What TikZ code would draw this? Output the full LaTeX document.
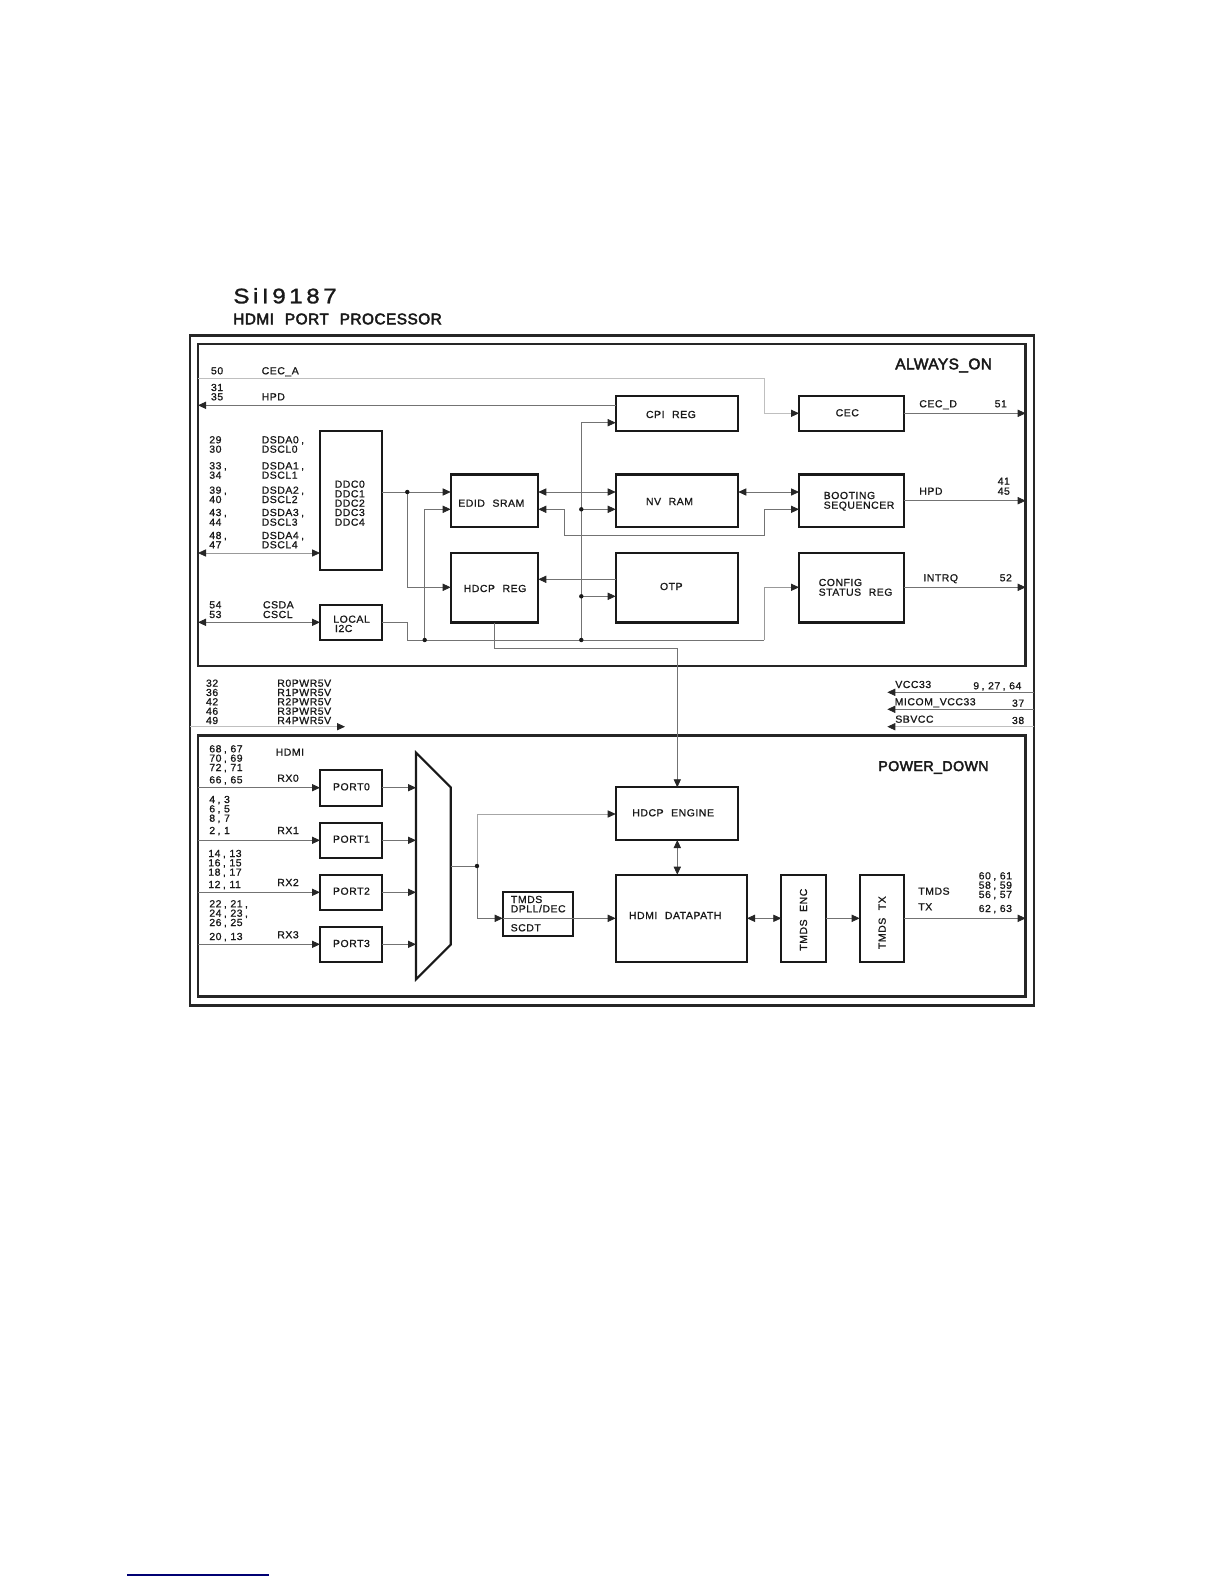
\documentclass[tikz,border=0pt]{standalone}
\usepackage{fontspec}
\usetikzlibrary{arrows.meta,calc}
\newfontfamily\labfont[FakeStretch=1.03,LetterSpace=5,WordSpace=2.2,FakeBold=1]{Liberation Sans}
\newfontfamily\headfont[FakeStretch=1.0,LetterSpace=3,WordSpace=2.3,FakeBold=3]{Liberation Sans}
\newfontfamily\chipfont[FakeStretch=1.15,LetterSpace=17,FakeBold=1.5]{Liberation Sans}
\newcounter{tc}
\newcommand{\cm}{\kern1.2pt,\kern1.8pt}
\tikzset{
  x=0.5pt,y=-0.5pt,
  blk/.style={draw=black!90,line width=1.05pt,inner sep=0pt,outer sep=0pt,rectangle},
  frame/.style={draw=black!85,line width=1.25pt,inner sep=0pt,outer sep=0pt,rectangle},
  conn/.style={draw=black!55,line width=0.4pt,arrows={-Triangle[length=4pt,width=3.6pt,color=black!85,fill=black!85]}},
  both/.style={draw=black!55,line width=0.4pt,arrows={Triangle[length=4pt,width=3.6pt,color=black!85,fill=black!85]-Triangle[length=4pt,width=3.6pt,color=black!85,fill=black!85]}},
  plain/.style={draw=black!55,line width=0.4pt},
  faint/.style={draw=black!25},
  lab/.style={font=\labfont\fontsize{5.1pt}{6pt}\selectfont,text=black!90,inner sep=0pt,outer sep=0pt,anchor=base west},
  head/.style={font=\headfont\fontsize{7.7pt}{9pt}\selectfont,text=black!90,inner sep=0pt,outer sep=0pt,anchor=base west},
  dot/.style={circle,fill=black!90,inner sep=0pt,minimum size=2.2pt},
}
\newcommand{\blkbox}[6][blk]{\node[#1,minimum width={(#5-#3)*0.5pt},minimum height={(#6-#4)*0.5pt}] (#2) at ({(#3+#5)/2},{(#4+#6)/2}) {};}
\newcommand{\lb}[4][]{\stepcounter{tc}\node[lab,#1] (t\arabic{tc}) at (#2,#3) {#4};}
\begin{document}
\begin{tikzpicture}
\useasboundingbox (0,0) rectangle (1224,1584);
% frames
\blkbox[frame]{outer}{190}{335.7}{1034}{1005.7}
\blkbox[frame]{aon}{198}{344}{1025.7}{666}
\blkbox[frame]{pdn}{198}{735.7}{1025.7}{996.7}
% blocks
\blkbox{ddc}{320}{431}{381.7}{570}
\blkbox{edid}{450.7}{474.5}{538.3}{527}
\blkbox{hdcpreg}{450.7}{553}{538.3}{622.5}
\blkbox{local}{320}{605}{381.7}{640}
\blkbox{cpi}{615.7}{396.3}{738.3}{431}
\blkbox{nvram}{615.7}{474.5}{738.3}{527}
\blkbox{otp}{615.7}{553}{738.3}{622.5}
\blkbox{cec}{799}{396.3}{903.7}{431}
\blkbox{boot}{799}{474.5}{903.7}{527}
\blkbox{config}{799}{553}{903.7}{622.5}
\blkbox{port0}{320}{770.3}{381.7}{805.7}
\blkbox{port1}{320}{822.7}{381.7}{858}
\blkbox{port2}{320}{874.7}{381.7}{910}
\blkbox{port3}{320}{927}{381.7}{962.3}
\blkbox{tmdsdec}{502.7}{892}{573.3}{936}
\blkbox{engine}{615.7}{787.3}{738.3}{840}
\blkbox{datapath}{615.7}{874.7}{747}{962}
\blkbox{enc}{781.3}{874.7}{825.7}{962}
\blkbox{tx}{859.7}{874.7}{903.7}{962}
% mux
\draw[draw=black!90,line width=1.05pt,line join=miter] (416,752.7) -- (450.7,787.3) -- (450.7,944.7) -- (416,979.3) -- cycle;
% named points
\coordinate (jddc) at (407.3,492);
\coordinate (jhd) at (407.3,587.3);
\coordinate (jloc) at (407.3,622.3);
\coordinate (jlow) at (407.3,640);
\coordinate (j2) at (424.7,640);
\coordinate (j2up) at (424.7,509.3);
\coordinate (j3) at (581.3,640);
\coordinate (j3a) at (581.3,509.3);
\coordinate (j3b) at (581.3,596.3);
\coordinate (j3c) at (581.3,422.7);
\coordinate (cfga) at (764.3,640);
\coordinate (cfgb) at (764.3,587.3);
\coordinate (rta) at (564.3,509.3);
\coordinate (rtb) at (564.3,535.3);
\coordinate (rtc) at (764.3,535.3);
\coordinate (rtd) at (764.3,509.3);
\coordinate (ceca) at (198,378.7);
\coordinate (cecb) at (764.3,378.7);
\coordinate (cecc) at (764.3,413.3);
\coordinate (hda) at (494.3,648.3);
\coordinate (hdb) at (677.3,648.3);
\coordinate (hdc) at (677.3,787.3);
\coordinate (muxo) at (450.7,866);
\coordinate (jmux) at (477,866);
\coordinate (jmua) at (477,814);
\coordinate (jmub) at (477,918.3);
\coordinate (pwrs) at (190,726.7);
\coordinate (pwre) at (345,726.7);
\coordinate (vcca) at (887.3,692.3);
\coordinate (vccb) at (887.3,709.3);
\coordinate (vccc) at (887.3,726.7);
\coordinate (mx0) at (416,787.7);
\coordinate (mx1) at (416,840.3);
\coordinate (mx2) at (416,892.3);
\coordinate (mx3) at (416,944.3);
% connectors always-on
\draw[conn,faint] (ceca) -- (cecb) -- (cecc) -- (cec.west |- cecc);
\draw[conn] (cpi.west |- 0,405.3) -- (aon.west |- 0,405.3);
\draw[conn] (j3) -- (j3c) -- (cpi.west |- j3c);
\draw[conn] (ddc.east |- jddc) -- (edid.west |- jddc);
\draw[conn] (jddc) -- (jhd) -- (hdcpreg.west |- jhd);
\draw[conn] (j2) -- (j2up) -- (edid.west |- j2up);
\draw[both] (edid.east |- 0,492) -- (nvram.west |- 0,492);
\draw[conn] (j3a) -- (nvram.west |- j3a);
\draw[conn] (rtd) -- (boot.west |- rtd);
\draw[conn] (rtb) -- (rta) -- (edid.east |- rta);
\draw[plain] (rtb) -- (rtc) -- (rtd);
\draw[conn] (otp.west |- 0,579.3) -- (hdcpreg.east |- 0,579.3);
\draw[conn] (j3b) -- (otp.west |- j3b);
\draw[both] (nvram.east |- 0,492) -- (boot.west |- 0,492);
\draw[plain] (local.east |- jloc) -- (jloc) -- (jlow) -- (cfga);
\draw[conn,draw=black!40] (cfga) -- (cfgb) -- (config.west |- cfgb);
\draw[both,draw=black!40] (aon.west |- 0,553) -- (ddc.west |- 0,553);
\draw[both] (aon.west |- 0,622.3) -- (local.west |- 0,622.3);
\draw[conn] (cec.east |- 0,413.3) -- (aon.east |- 0,413.3);
\draw[conn] (boot.east |- 0,500.7) -- (aon.east |- 0,500.7);
\draw[conn] (config.east |- 0,587.3) -- (aon.east |- 0,587.3);
\draw[conn] (hdcpreg.south -| hda) -- (hda) -- (hdb) -- (hdc);
% supply
\draw[conn,faint] (pwrs) -- (pwre);
\draw[conn] (outer.east |- vcca) -- (vcca);
\draw[conn] (outer.east |- vccb) -- (vccb);
\draw[conn,faint] (outer.east |- vccc) -- (vccc);
% power-down
\draw[conn] (pdn.west |- mx0) -- (port0.west |- mx0);
\draw[conn] (pdn.west |- mx1) -- (port1.west |- mx1);
\draw[conn] (pdn.west |- mx2) -- (port2.west |- mx2);
\draw[conn] (pdn.west |- mx3) -- (port3.west |- mx3);
\draw[conn] (port0.east |- mx0) -- (mx0);
\draw[conn] (port1.east |- mx1) -- (mx1);
\draw[conn] (port2.east |- mx2) -- (mx2);
\draw[conn] (port3.east |- mx3) -- (mx3);
\draw[plain] (muxo) -- (jmux);
\draw[conn,draw=black!35] (jmux) -- (jmua) -- (engine.west |- jmua);
\draw[conn] (jmux) -- (jmub) -- (tmdsdec.west |- jmub);
\draw[conn] (tmdsdec.west |- jmub) -- (datapath.west |- jmub);
\draw[both] (engine.south -| hdc) -- (datapath.north -| hdc);
\draw[both] (datapath.east |- jmub) -- (enc.west |- jmub);
\draw[conn] (enc.east |- jmub) -- (tx.west |- jmub);
\draw[conn] (tx.east |- jmub) -- (pdn.east |- jmub);
% dots
\node[dot] (d1) at (jddc) {};
\node[dot] (d2) at (j2) {};
\node[dot] (d3) at (j3) {};
\node[dot] (d4) at (j3a) {};
\node[dot] (d5) at (j3b) {};
\node[dot] (d6) at (jmux) {};
% titles
\node[font=\chipfont\fontsize{10.5pt}{12pt}\selectfont,text=black!90,inner sep=0pt,anchor=base west] (chip) at (233,303.3) {SiI9187};
\node[head] (ttl) at (233.3,324.3) {HDMI PORT PROCESSOR};
\node[head] (aonl) at (895.3,369.3) {ALWAYS\_ON};
\node[head,font=\headfont\fontsize{7.1pt}{9pt}\selectfont] (pdnl) at (878.3,771) {POWER\_DOWN};
% labels
\lb{211}{374.3}{50}\lb{261.7}{374.3}{CEC\_A}
\lb{211}{391}{31}\lb{211}{400.3}{35}\lb{261.7}{400.3}{HPD}
\lb{209.3}{443.3}{29}\lb{209.3}{452.7}{30}\lb{261.7}{443.3}{DSDA0\cm}\lb{261.7}{452.7}{DSCL0}
\lb{209.3}{469.3}{33\cm}\lb{209.3}{478.7}{34}\lb{261.7}{469.3}{DSDA1\cm}\lb{261.7}{478.7}{DSCL1}
\lb{209.3}{493.7}{39\cm}\lb{209.3}{503}{40}\lb{261.7}{493.7}{DSDA2\cm}\lb{261.7}{503}{DSCL2}
\lb{209.3}{516}{43\cm}\lb{209.3}{525.7}{44}\lb{261.7}{516}{DSDA3\cm}\lb{261.7}{525.7}{DSCL3}
\lb{209.3}{539}{48\cm}\lb{209.3}{548.3}{47}\lb{261.7}{539}{DSDA4\cm}\lb{261.7}{548.3}{DSCL4}
\lb{209.3}{608.3}{54}\lb{209.3}{618}{53}\lb{263}{608.3}{CSDA}\lb{263}{618}{CSCL}
\lb{334.7}{487.7}{DDC0}\lb{334.7}{497.3}{DDC1}\lb{334.7}{506.7}{DDC2}\lb{334.7}{516}{DDC3}\lb{334.7}{525.7}{DDC4}
\lb{458.3}{506.7}{EDID SRAM}\lb{463.7}{592}{HDCP REG}
\lb{333.3}{622.7}{LOCAL}\lb{335}{632}{I2C}
\lb{646}{418}{CPI REG}\lb{646}{505}{NV RAM}\lb{660}{590}{OTP}
\lb{835.7}{416.3}{CEC}\lb{823.7}{499}{BOOTING}\lb{823.7}{508.7}{SEQUENCER}
\lb{818.7}{586}{CONFIG}\lb{818.7}{595.7}{STATUS REG}
\lb{919.3}{407.3}{CEC\_D}\lb{994.7}{407.3}{51}
\lb{919.3}{494.7}{HPD}\lb{997.7}{484.7}{41}\lb{997.7}{494.7}{45}
\lb{923.3}{581.3}{INTRQ}\lb{999.7}{581.3}{52}
\lb{895.3}{688}{VCC33}\lb{973.3}{689.3}{9\cm27\cm64}
\lb{894.7}{705.3}{MICOM\_VCC33}\lb{1012}{706.7}{37}
\lb{895.3}{722.7}{SBVCC}\lb{1012}{724}{38}
\lb{206}{686.7}{32}\lb{206}{696}{36}\lb{206}{705.3}{42}\lb{206}{714.7}{46}\lb{206}{724}{49}
\lb{277.3}{686.7}{R0PWR5V}\lb{277.3}{696}{R1PWR5V}\lb{277.3}{705.3}{R2PWR5V}\lb{277.3}{714.7}{R3PWR5V}\lb{277.3}{724}{R4PWR5V}
\lb{209.3}{752.3}{68\cm67}\lb{209.3}{761.7}{70\cm69}\lb{209.3}{771}{72\cm71}\lb{209.3}{783.3}{66\cm65}
\lb{275.7}{755.7}{HDMI}\lb{277.3}{781.7}{RX0}
\lb{333}{790.3}{PORT0}\lb{333}{842.7}{PORT1}\lb{333}{894.7}{PORT2}\lb{333}{947}{PORT3}
\lb{209.3}{803}{4\cm3}\lb{209.3}{812.3}{6\cm5}\lb{209.3}{821.7}{8\cm7}\lb{209.3}{834}{2\cm1}\lb{277.3}{834}{RX1}
\lb{208.3}{857}{14\cm13}\lb{208.3}{866.3}{16\cm15}\lb{208.3}{875.7}{18\cm17}\lb{208.3}{888}{12\cm11}\lb{277.3}{886}{RX2}
\lb{209.3}{907.3}{22\cm21\cm}\lb{209.3}{916.7}{24\cm23\cm}\lb{209.3}{926}{26\cm25}\lb{209.3}{940}{20\cm13}\lb{277.3}{938.3}{RX3}
\lb{511}{903}{TMDS}\lb{510.7}{912.3}{DPLL/DEC}\lb{510.7}{931.3}{SCDT}
\lb{632.3}{816.3}{HDCP ENGINE}\lb{629}{919}{HDMI DATAPATH}
\lb[rotate=90]{807}{950.7}{TMDS ENC}\lb[rotate=90]{885.7}{949}{TMDS TX}
\lb{918.3}{894.7}{TMDS}\lb{918.3}{910.3}{TX}
\lb{978.7}{879.3}{60\cm61}\lb{978.7}{888.7}{58\cm59}\lb{978.7}{898}{56\cm57}\lb{978.7}{912}{62\cm63}
% footnote rule
\coordinate (rulea) at (127,1575);
\coordinate (ruleb) at (269,1575);
\draw[draw=blue!45!black,line width=0.7pt] (rulea) -- (ruleb);
\end{tikzpicture}
\end{document}
